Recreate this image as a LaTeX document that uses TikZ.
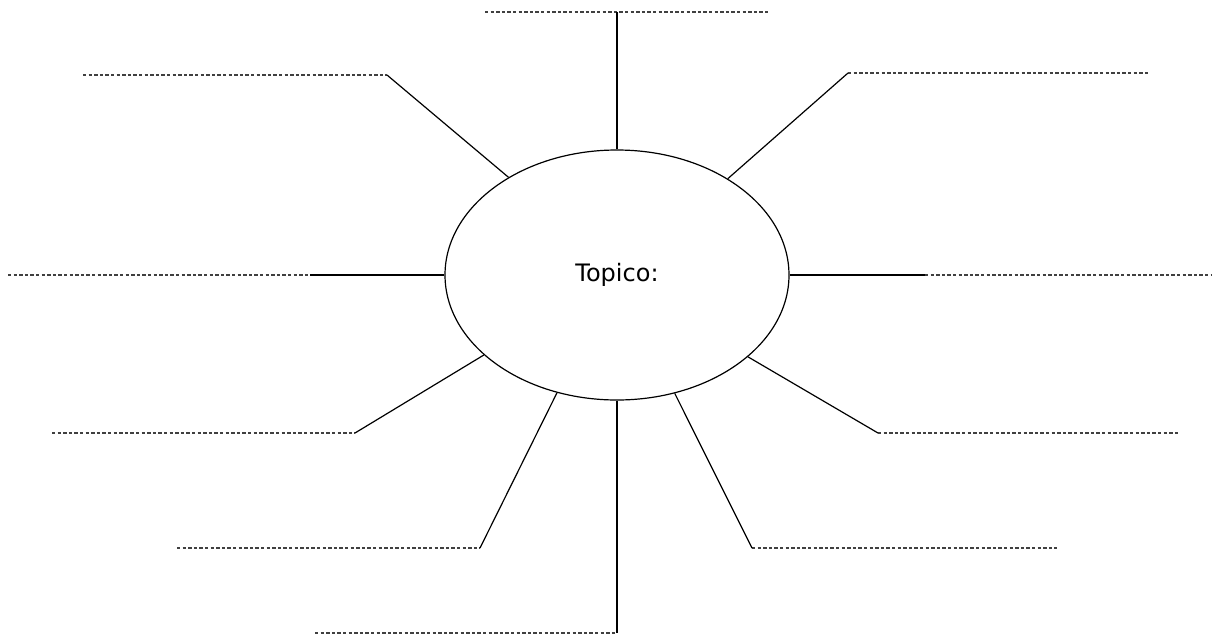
\documentclass[tikz,border=0pt]{standalone}
\usepackage{fontspec}
\setmainfont{DejaVu Sans}
\usetikzlibrary{shapes.geometric}
\tikzset{
  topic/.style={ellipse, draw, line width=0.9pt, inner sep=0pt, minimum width=258pt, minimum height=187.5pt, font=\fontsize{18}{21}\selectfont},
  arm/.style={draw, line width=0.9pt},
  blank/.style={draw, line width=0.8pt, dash pattern=on 2.6pt off 1.6pt, black!75}
}
\begin{document}
\begin{tikzpicture}[x=0.75pt,y=-0.75pt]
\useasboundingbox (0,0) rectangle (1214,636);
\node[topic] (e) at (617,275) {\raisebox{-2pt}{Topico:}};
% top
\coordinate (t1) at (485,12); \coordinate (t2) at (617,12); \coordinate (t3) at (768,12);
\draw[blank] (t1) -- (t3);
\draw[arm] (e.90) -- (t2);
% upper left
\coordinate (ul1) at (83,75); \coordinate (ul2) at (387,75);
\draw[blank] (ul1) -- (ul2);
\draw[arm] (e.138.9) -- (ul2);
% upper right
\coordinate (ur1) at (848,73); \coordinate (ur2) at (1150,73);
\draw[blank] (ur1) -- (ur2);
\draw[arm] (e.41.1) -- (ur1);
% left
\coordinate (l1) at (8,275); \coordinate (l2) at (310,275);
\draw[blank] (l1) -- (l2);
\draw[arm] (e.180) -- (l2);
% right
\coordinate (r1) at (925,275); \coordinate (r2) at (1212,275);
\draw[blank] (r1) -- (r2);
\draw[arm] (e.0) -- (r1);
% lower left
\coordinate (ll1) at (52,433); \coordinate (ll2) at (355,433);
\draw[blank] (ll1) -- (ll2);
\draw[arm] (e.211.2) -- (ll2);
% lower right
\coordinate (lr1) at (878,433); \coordinate (lr2) at (1180,433);
\draw[blank] (lr1) -- (lr2);
\draw[arm] (e.328.6) -- (lr1);
% lower left 2
\coordinate (bl1) at (177,548); \coordinate (bl2) at (480,548);
\draw[blank] (bl1) -- (bl2);
\draw[arm] (e.243.05) -- (bl2);
% lower right 2
\coordinate (br1) at (752,548); \coordinate (br2) at (1057,548);
\draw[blank] (br1) -- (br2);
\draw[arm] (e.296.95) -- (br1);
% bottom
\coordinate (b1) at (315,633); \coordinate (b2) at (617,633);
\draw[blank] (b1) -- (b2);
\draw[arm] (e.270) -- (b2);
\end{tikzpicture}
\end{document}
